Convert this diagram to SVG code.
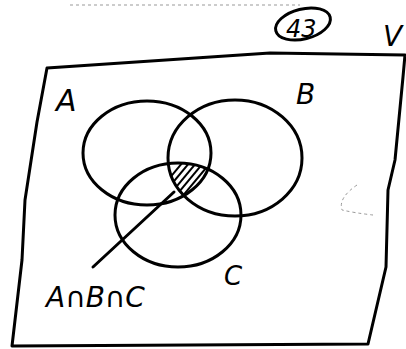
<svg xmlns="http://www.w3.org/2000/svg" width="406" height="349" viewBox="0 0 406 349">
<style>
.ln{fill:none;stroke:#000;stroke-width:3;stroke-linecap:round;stroke-linejoin:round}
.hatch{stroke:#000;stroke-width:2}
.faint{fill:none;stroke:#999;stroke-width:1;stroke-dasharray:3 3}
.t{font-family:"DejaVu Sans",sans-serif;font-style:oblique;fill:#000}
</style>
<defs>
<clipPath id="cA"><ellipse cx="147" cy="153" rx="64" ry="52"/></clipPath>
<clipPath id="cB"><ellipse cx="235" cy="158" rx="67" ry="58"/></clipPath>
<clipPath id="cC"><ellipse cx="178" cy="215" rx="63" ry="52"/></clipPath>
</defs>
<rect width="406" height="349" fill="#fff"/>
<path class="faint" d="M70,5 L300,5"/>
<path class="faint" d="M357,185 Q338,198 342,210 Q355,213 373,215"/>
<g id="universe">
<path class="ln" d="M47,68 L270,53 L405,55 M405,55 L403,77 L395,160 L388,190 L386,267 L368,344 M12,346 L368,344 M47,68 L37,122 L25,200 L22,260 L12,346"/>
<text class="t" x="383" y="46" font-size="28">V</text>
</g>
<g id="page-number">
<ellipse cx="303" cy="24" rx="28" ry="15" class="ln" stroke-width="2.5" transform="rotate(-14 303 24)"/>
<text class="t" x="286" y="37" font-size="24">43</text>
</g>
<g id="setA">
<ellipse class="ln" cx="147" cy="153" rx="64" ry="52"/>
<text class="t" x="56" y="111" font-size="30">A</text>
</g>
<g id="setB">
<ellipse class="ln" cx="235" cy="158" rx="67" ry="58"/>
<text class="t" x="296" y="104" font-size="28">B</text>
</g>
<g id="setC">
<ellipse class="ln" cx="178" cy="215" rx="63" ry="52"/>
<text class="t" x="224" y="285" font-size="26">C</text>
</g>
<g id="intersection">
<g clip-path="url(#cA)"><g clip-path="url(#cB)"><g clip-path="url(#cC)">
<g class="hatch">
<line x1="143" y1="210" x2="193" y2="150"/>
<line x1="150" y1="210" x2="200" y2="150"/>
<line x1="157" y1="210" x2="207" y2="150"/>
<line x1="164" y1="210" x2="214" y2="150"/>
<line x1="171" y1="210" x2="221" y2="150"/>
<line x1="178" y1="210" x2="228" y2="150"/>
<line x1="185" y1="210" x2="235" y2="150"/>
<line x1="192" y1="210" x2="242" y2="150"/>
</g>
</g></g></g>
<text class="t" x="46" y="307" font-size="28">A∩B∩C</text>
</g>
<g id="connectors">
<line class="ln" x1="174" y1="192" x2="93" y2="267"/>
</g>
</svg>
